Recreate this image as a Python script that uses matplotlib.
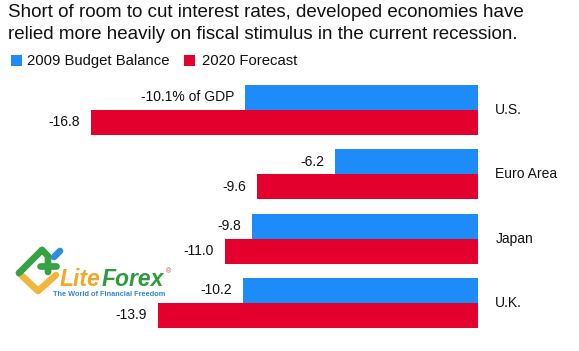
import matplotlib
matplotlib.use("Agg")
import matplotlib.pyplot as plt
import numpy as np
from matplotlib.lines import Line2D

categories = ["U.S.", "Euro Area", "Japan", "U.K."]
budget_2009 = [-10.1, -6.2, -9.8, -10.2]
forecast_2020 = [-16.8, -9.6, -11.0, -13.9]
series_names = ["2009 Budget Balance", "2020 Forecast"]
blue = "#1E8CF8"
red = "#E3002D"

plt.rcParams['font.family'] = ['Liberation Sans', 'DejaVu Sans']

W, H = 579, 351
fig = plt.figure(figsize=(W/100, H/100), dpi=100)

# axes: zero line at x=478 px
ax = fig.add_axes([0, 0, 478/W, 1])
px_per_unit = 23.04
ax.set_xlim(-478/px_per_unit, 0)
spacing = 64.3
top_center = 110
ax.set_ylim((H - top_center)/spacing, -top_center/spacing)
ax.axis('off')

y = np.arange(len(categories))
bh = 25/spacing
ax.barh(y - bh/2, budget_2009, height=bh, color=blue, linewidth=0)
ax.barh(y + bh/2, forecast_2020, height=bh, color=red, linewidth=0)

for i, (b, f) in enumerate(zip(budget_2009, forecast_2020)):
    lab = f"{b:.1f}% of GDP" if i == 0 else f"{b:.1f}"
    ax.annotate(lab, (b, i - bh/2), xytext=(-8, 0), textcoords='offset points',
                ha='right', va='center', fontsize=10, color='#111111')
    ax.annotate(f"{f:.1f}", (f, i + bh/2), xytext=(-8, 0), textcoords='offset points',
                ha='right', va='center', fontsize=10, color='#111111')
    ax.annotate(categories[i], (0, i), xytext=(12.5, 0), textcoords='offset points',
                ha='left', va='center', fontsize=10, color='#111111', annotation_clip=False)

# title
fig.text(8/W, 1 - 17/H, "Short of room to cut interest rates, developed economies have",
         fontsize=13.5, ha='left', va='baseline', color='#111111')
fig.text(8/W, 1 - 39/H, "relied more heavily on fiscal stimulus in the current recession.",
         fontsize=13.5, ha='left', va='baseline', color='#111111')

# legend
fig.patches.append(plt.Rectangle((11/W, 1 - 66/H), 11/W, 11/H, transform=fig.transFigure,
                                 color=blue, linewidth=0))
fig.text(27/W, 1 - 65/H, series_names[0], fontsize=10.7, ha='left', va='baseline', color='#111111')
fig.patches.append(plt.Rectangle((184/W, 1 - 66/H), 11/W, 11/H, transform=fig.transFigure,
                                 color=red, linewidth=0))
fig.text(202/W, 1 - 65/H, series_names[1], fontsize=10.7, ha='left', va='baseline', color='#111111')

# watermark logo (approximation)
def fl(xs, ys, c, lw):
    fig.add_artist(Line2D([v/W for v in xs], [1 - v/H for v in ys], color=c, lw=lw,
                          solid_capstyle='round', transform=fig.transFigure))
fl([19, 38, 56], [273, 291, 275], '#F2B63A', 4.8)
fl([19, 42], [273, 250], '#35A244', 4.8)
fl([42, 48, 48], [250, 256, 272], '#35A244', 4.8)
fl([40, 56], [266, 266], '#35A244', 4.8)
fl([54, 60], [257, 251], '#2F8DE0', 4.8)
fig.text(60/W, 1 - 286/H, "Lite", fontsize=16.5, fontweight='bold', style='italic',
         color='#F2A62A', ha='left', va='baseline')
fig.text(102/W, 1 - 286/H, "Forex", fontsize=16.5, fontweight='bold', style='italic',
         color='#2E9B3E', ha='left', va='baseline')
fig.text(166/W, 1 - 273/H, "®", fontsize=5, color='#E3402D', ha='left', va='baseline')
fig.text(53/W, 1 - 295.5/H, "The World of Financial Freedom", fontsize=5.3, fontweight='bold',
         color='#2F86D6', ha='left', va='baseline')

fig.savefig("out.png", dpi=100, facecolor='white')
